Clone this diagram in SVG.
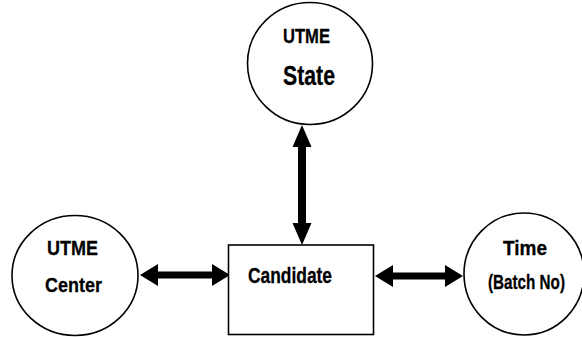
<svg xmlns="http://www.w3.org/2000/svg" width="582" height="337" viewBox="0 0 582 337">
<style>
.shape{fill:#fff;stroke:#000;stroke-width:1.6}
.lbl{font-family:"Liberation Sans",Arial,sans-serif;font-weight:bold;font-size:21px;fill:#000;stroke:#000;stroke-width:0.3;text-anchor:middle}
.arrow{fill:#000;stroke:none}
</style>
<rect width="582" height="337" fill="#fff"/>
<g id="connectors">
<polygon class="arrow" points="140,275 158,264 158,271.5 212,271.5 212,264 230,275 212,286 212,278.5 158,278.5 158,286"/>
<polygon class="arrow" points="375,276 393,265 393,272.5 445,272.5 445,265 463,276 445,287 445,279.5 393,279.5 393,287"/>
<polygon class="arrow" points="302,125 311.5,147 306,147 306,223 311.5,223 302,245 292.5,223 298,223 298,147 292.5,147"/>
</g>
<g id="utme-state">
<ellipse class="shape" cx="310" cy="63.5" rx="62.5" ry="61"/>
<text class="lbl" x="306.5" y="43" textLength="47" lengthAdjust="spacingAndGlyphs">UTME</text>
<text class="lbl" x="309" y="85" style="font-size:27px" textLength="52" lengthAdjust="spacingAndGlyphs">State</text>
</g>
<g id="utme-center">
<ellipse class="shape" cx="75" cy="275.5" rx="63" ry="60"/>
<text class="lbl" x="72.5" y="255" textLength="51" lengthAdjust="spacingAndGlyphs">UTME</text>
<text class="lbl" x="73.5" y="292" textLength="57" lengthAdjust="spacingAndGlyphs">Center</text>
</g>
<g id="candidate">
<rect class="shape" x="228.5" y="245" width="145" height="89.5"/>
<text class="lbl" x="290" y="283" style="font-size:22px" textLength="84" lengthAdjust="spacingAndGlyphs">Candidate</text>
</g>
<g id="time-batch">
<ellipse class="shape" cx="524" cy="274" rx="60" ry="61"/>
<text class="lbl" x="525" y="255" textLength="44" lengthAdjust="spacingAndGlyphs">Time</text>
<text class="lbl" x="526.5" y="289" style="font-size:20px" textLength="77" lengthAdjust="spacingAndGlyphs">(Batch No)</text>
</g>
</svg>
